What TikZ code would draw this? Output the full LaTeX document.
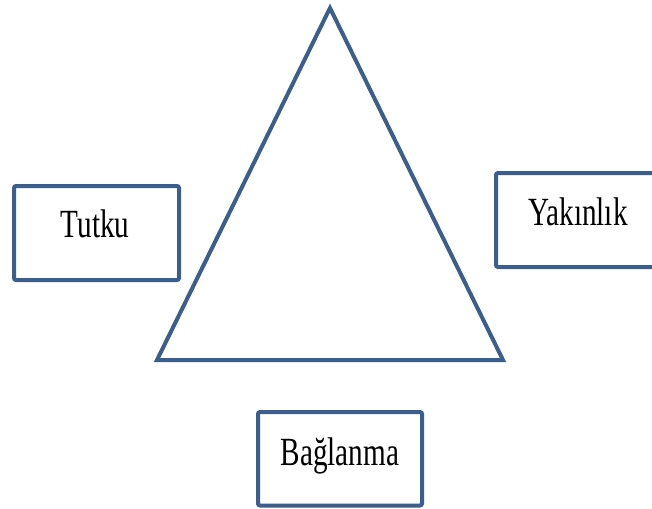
\documentclass[tikz,border=0pt]{standalone}
\usepackage{fontspec}
\setmainfont{Liberation Serif}
\definecolor{edge}{HTML}{3B5E8C}
\begin{document}
\begin{tikzpicture}[x=0.75pt,y=-0.75pt,
  shape line/.style={draw=edge,line width=3pt},
  boxline/.style={draw=edge,line width=3pt,rounded corners=1.5pt},
  lbl/.style={font=\fontsize{30}{36}\selectfont,xscale=0.73,anchor=base,inner sep=0pt}]
\useasboundingbox (0,0) rectangle (652,508);
\clip (0,0) rectangle (652,508);
\coordinate (apex) at (330,8);
\coordinate (bl) at (157,360);
\coordinate (br) at (503,360);
\draw[shape line,line join=miter] (apex) -- (bl) -- (br) -- cycle;
\draw[boxline] (14,186) rectangle (179,280);
\draw[boxline] (496,173) rectangle (664,267);
\draw[boxline] (258,412) rectangle (422,505.5);
\node[lbl] (tutku) at (95,237) {Tutku};
\node[lbl] (yakin) at (578,225) {Yakınlık};
\node[lbl] (bag) at (340,465) {Bağlanma};
\end{tikzpicture}
\end{document}
